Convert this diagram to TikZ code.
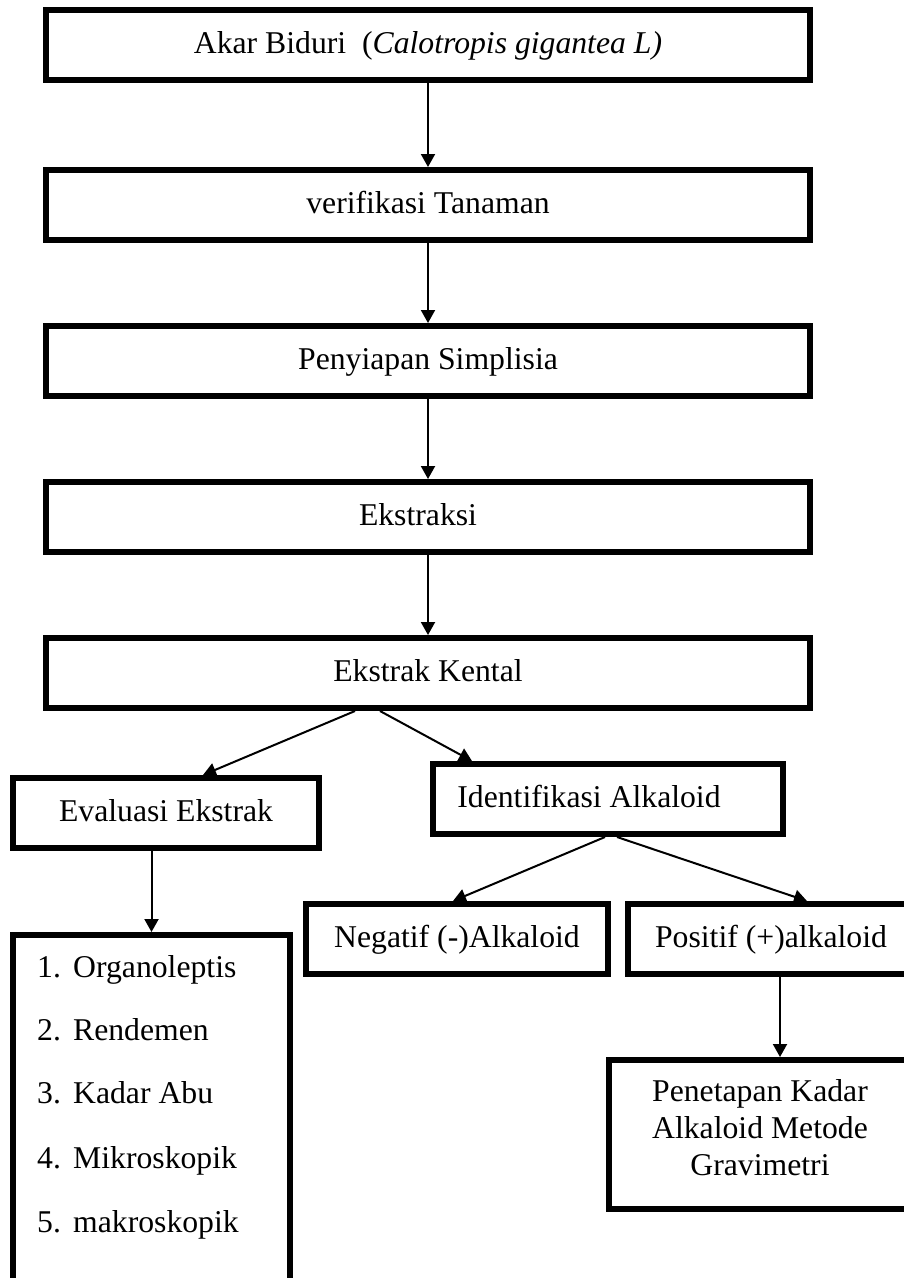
\documentclass[tikz,border=0pt]{standalone}
\usepackage{fontspec}
\setmainfont{Liberation Serif}
\usetikzlibrary{arrows.meta}
\begin{document}
\begin{tikzpicture}[x=1pt,y=-1pt,
  boxbase/.style={draw, line width=6pt, inner sep=0pt,
    font=\fontsize{31.7pt}{37pt}\selectfont},
  box/.style={boxbase, minimum height=70pt, text height=22pt, text depth=6pt},
  wide/.style={box, minimum width=764pt},
  arr/.style={line width=2pt, -{Triangle[length=13pt,width=14pt]}},
  listitem/.style={anchor=base west, inner sep=0pt,
    font=\fontsize{31.7pt}{37pt}\selectfont}]
\useasboundingbox (0,0) rectangle (904,1278);
\clip (0,0) rectangle (904,1278);

% main column
\node[wide] (b1) at (428,45)
  {Akar Biduri\hspace{0.5em}(\textit{Calotropis gigantea L)}};
\node[wide] (b2) at (428,205) {verifikasi Tanaman};
\node[wide] (b3) at (428,361) {Penyiapan Simplisia};
\node[wide] (b4) at (428,517) {\hspace*{-20pt}Ekstraksi};
\node[wide] (b5) at (428,673) {Ekstrak Kental};

% second level
\node[box, minimum width=306pt] (eval) at (166,813) {Evaluasi Ekstrak};
\node[box, minimum width=350pt] (ident) at (608,799)
  {\hspace*{-38pt}Identifikasi Alkaloid};

% list box
\node[boxbase, minimum width=277pt, minimum height=365pt] (list) at (151.5,1117.5) {};
\node[listitem] (i1) at (37,977)  {\makebox[36pt][l]{1.}Organoleptis};
\node[listitem] (i2) at (37,1040) {\makebox[36pt][l]{2.}Rendemen};
\node[listitem] (i3) at (37,1103) {\makebox[36pt][l]{3.}Kadar Abu};
\node[listitem] (i4) at (37,1168) {\makebox[36pt][l]{4.}Mikroskopik};
\node[listitem] (i5) at (37,1232) {\makebox[36pt][l]{5.}makroskopik};

% third level
\node[box, minimum width=302pt] (neg) at (457,939) {Negatif (-)Alkaloid};
\node[box, minimum width=286pt] (pos) at (771,939) {Positif (+)alkaloid};
\node[boxbase, minimum width=302pt, minimum height=149pt, align=center] (pen) at (760,1134.5)
  {Penetapan Kadar\\Alkaloid Metode\\Gravimetri\rule[-14pt]{0pt}{0pt}};

% connectors
\draw[arr] (b1) -- (b2);
\draw[arr] (b2) -- (b3);
\draw[arr] (b3) -- (b4);
\draw[arr] (b4) -- (b5);
\draw[arr] ([xshift=-73pt]b5.south) -- ([xshift=37pt]eval.north);
\draw[arr] ([xshift=-48pt]b5.south) -- ([xshift=-136pt]ident.north);
\draw[arr] (eval.south -| list.north) -- (list.north);
\draw[arr] ([xshift=-3pt]ident.south) -- ([xshift=-4pt]neg.north);
\draw[arr] ([xshift=9pt]ident.south) -- ([xshift=36pt]pos.north);
\draw[arr] ([xshift=9pt]pos.south) -- ([xshift=20pt]pen.north);
\end{tikzpicture}
\end{document}
